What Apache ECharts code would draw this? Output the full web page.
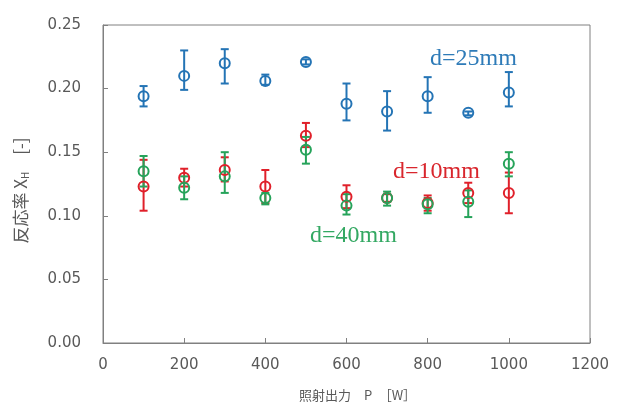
<!DOCTYPE html>
<html>
<head>
<meta charset="utf-8">
<script src="https://cdn.jsdelivr.net/npm/echarts@6/dist/echarts.min.js"></script>
<style>
  html, body { margin: 0; padding: 0; background: #fff; }
  #chart { width: 618px; height: 408px; }
</style>
</head>
<body>
<div id="chart"></div>
<script>
const power = [100, 200, 300, 400, 500, 600, 700, 800, 900, 1000]

// d=25mm
const d25 = [0.194, 0.210, 0.220, 0.206, 0.221, 0.188, 0.182, 0.194, 0.181, 0.197]
const d25Low = [0.186, 0.199, 0.204, 0.203, 0.219, 0.175, 0.167, 0.181, 0.179, 0.186]
const d25High = [0.202, 0.230, 0.231, 0.211, 0.223, 0.204, 0.198, 0.209, 0.182, 0.213]

// d=10mm
const d10 = [0.123, 0.130, 0.136, 0.123, 0.163, 0.115, 0.114, 0.110, 0.118, 0.118]
const d10Low = [0.104, 0.123, 0.127, 0.110, 0.154, 0.106, 0.111, 0.104, 0.110, 0.102]
const d10High = [0.144, 0.137, 0.146, 0.136, 0.173, 0.124, 0.117, 0.116, 0.126, 0.134]

// d=40mm
const d40 = [0.135, 0.122, 0.131, 0.114, 0.152, 0.108, 0.114, 0.109, 0.111, 0.141]
const d40Low = [0.123, 0.113, 0.118, 0.109, 0.141, 0.101, 0.108, 0.102, 0.099, 0.131]
const d40High = [0.147, 0.131, 0.150, 0.118, 0.162, 0.117, 0.119, 0.114, 0.120, 0.150]

const colors = { d25: '#2474b5', d10: '#e0202a', d40: '#26a35a' }

const errorSeries = (low, high, color) => ({
  type: 'custom',
  data: power.map((p, i) => [p, low[i], high[i]]),
  renderItem: (params, api) => {
    const top = api.coord([api.value(0), api.value(2)])
    const bot = api.coord([api.value(0), api.value(1)])
    const w = 4
    const style = { stroke: color, lineWidth: 2 }
    return {
      type: 'group',
      children: [
        { type: 'line', shape: { x1: top[0], y1: top[1], x2: bot[0], y2: bot[1] }, style },
        { type: 'line', shape: { x1: top[0] - w, y1: top[1], x2: top[0] + w, y2: top[1] }, style },
        { type: 'line', shape: { x1: bot[0] - w, y1: bot[1], x2: bot[0] + w, y2: bot[1] }, style }
      ]
    }
  },
  z: 2
})

const pointSeries = (values, color) => ({
  type: 'scatter',
  data: power.map((p, i) => [p, values[i]]),
  symbol: 'circle',
  symbolSize: 10,
  itemStyle: { color: 'rgba(255,255,255,0)', borderColor: color, borderWidth: 2, opacity: 1 },
  z: 3
})

const label = (text, x, y, color) => ({
  type: 'text',
  x,
  y,
  z: 10,
  style: { text, fill: color, font: '24px "Liberation Serif"', textAlign: 'left', textVerticalAlign: 'top' }
})

const chart = echarts.init(document.getElementById('chart'))
const axisFont = { fontFamily: '"DejaVu Sans", Verdana, sans-serif', fontSize: 15, color: '#595959' }

chart.setOption({
  backgroundColor: '#fff',
  animation: false,
  grid: { left: 103, right: 28, top: 25, bottom: 65, show: true, borderColor: '#808080', borderWidth: 1 },
  xAxis: {
    type: 'value',
    min: 0,
    max: 1200,
    interval: 200,
    axisLine: { lineStyle: { color: '#808080' } },
    axisTick: { inside: true, length: 5, lineStyle: { color: '#808080' } },
    splitLine: { show: false },
    axisLabel: { ...axisFont, margin: 15, formatter: (v) => String(v) },
    name: '照射出力　P　［W］',
    nameLocation: 'middle',
    nameGap: 46,
    nameTextStyle: { fontFamily: 'Noto Sans CJK JP', fontSize: 13, color: '#595959', padding: [0, 0, 0, 22] }
  },
  yAxis: {
    type: 'value',
    min: 0,
    max: 0.25,
    interval: 0.05,
    axisLine: { show: true, lineStyle: { color: '#808080' } },
    axisTick: { show: true, inside: true, length: 5, lineStyle: { color: '#808080' } },
    splitLine: { show: false },
    axisLabel: { ...axisFont, margin: 22, formatter: (v) => v.toFixed(2) },
    name: '{a|反応率 X}{s|H}{a|　[-]}',
    nameLocation: 'middle',
    nameGap: 73,
    nameTextStyle: {
      padding: [0, 13, 0, 0],
      rich: {
        a: { fontFamily: 'Noto Sans CJK JP', fontSize: 17, color: '#595959' },
        s: { fontFamily: 'Noto Sans CJK JP', fontSize: 10, color: '#595959', verticalAlign: 'bottom', padding: [9, 0, 0, 0] }
      }
    }
  },
  graphic: [
    label('d=25mm', 430, 47, '#2e7bb8'),
    label('d=10mm', 393, 160, '#d9262d'),
    label('d=40mm', 310, 224, '#33a862')
  ],
  series: [
    errorSeries(d25Low, d25High, colors.d25),
    errorSeries(d10Low, d10High, colors.d10),
    errorSeries(d40Low, d40High, colors.d40),
    pointSeries(d25, colors.d25),
    pointSeries(d10, colors.d10),
    pointSeries(d40, colors.d40)
  ]
})
</script>
</body>
</html>
